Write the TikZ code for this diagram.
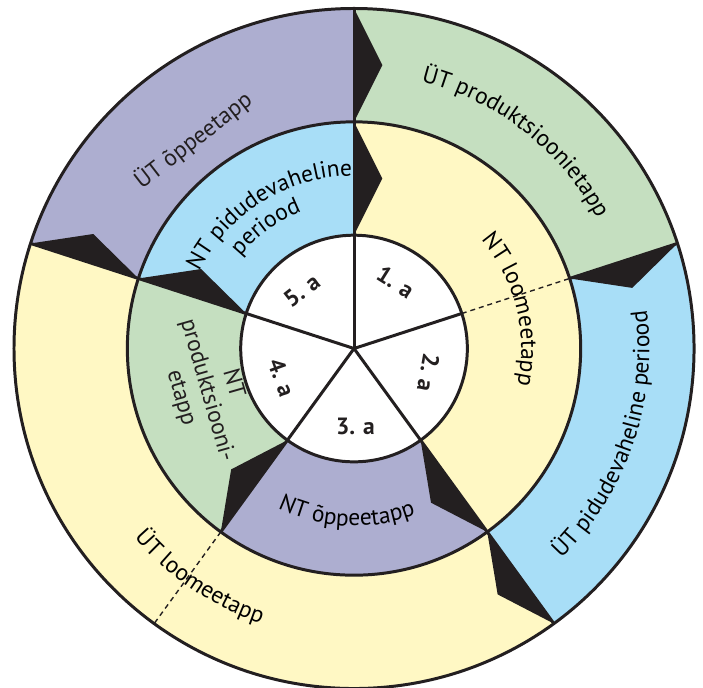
\documentclass[tikz,border=0pt]{standalone}
\usepackage{fontspec}
\setmainfont{PT Sans}
\usetikzlibrary{calc,decorations.text}
\definecolor{lilac}{RGB}{173,174,208}
\definecolor{sage}{RGB}{197,223,192}
\definecolor{cream}{RGB}{255,248,196}
\definecolor{sky}{RGB}{168,222,247}
\definecolor{ink}{RGB}{35,31,32}
\tikzset{
    arctext/.style={decorate,decoration={text along path,text align=center,text={#1}}},
}
\begin{document}
\fontsize{11.8}{13.5}\selectfont
\begin{tikzpicture}[line width=1.5pt,ink]
        \useasboundingbox (-6.247,-5.973) rectangle (6.158,6.150);

        \foreach \a/\b/\c in {90/18/sage, 18/-54/sky, -54/-198/cream, 162/90/lilac} {
            \fill[\c] (\a:6) arc[start angle=\a, end angle=\b, radius=6] -- (\b:4) arc[start angle=\b, end angle=\a, radius=4] -- cycle;
        }
        \foreach \a/\b/\c in {90/-54/cream, -54/-126/lilac, -126/-198/sage, 162/90/sky} {
            \fill[\c] (\a:4) arc[start angle=\a, end angle=\b, radius=4] -- (\b:2) arc[start angle=\b, end angle=\a, radius=2] -- cycle;
        }
        \fill[white] (0,0) circle[radius=2];

        \foreach \a in {90,18,-54,162} {
            \fill[ink] (\a:4) -- ($(\a:5)+({\a-90}:0.5)$) -- (\a:6) -- cycle;
        }
        \foreach \a in {90,-54,-126,162} {
            \fill[ink] (\a:2) -- ($(\a:3)+({\a-90}:0.5)$) -- (\a:4) -- cycle;
        }

        \foreach \r in {2,4,6} \draw (0,0) circle[radius=\r];
        \foreach \a in {90,18,-54,-126,162} \draw (0,0) -- (\a:2);
        \foreach \a in {90,-54,-126,162} \draw (\a:2) -- (\a:4);
        \foreach \a in {90,18,-54,162} \draw (\a:4) -- (\a:6);
        \draw[line width=.7pt,dash pattern=on 2.5pt off 2pt] (18:2) -- (18:4) (-126:4) -- (-126:6);

        \foreach \a/\rot/\n in {58/-32/1, -18/-100/2, -89/0/3, -158/-70/4, 132/38/5} {
            \node[font=\bfseries,rotate=\rot] (pie\n) at (\a:1.38) {\n. a};
        }

        \node[rotate=37.7] (utoppe) at (127.7:4.64) {ÜT õppeetapp};
        \path[arctext={ÜT produktsioonietapp}] (88:4.86) arc[start angle=88, end angle=16, radius=4.86];
        \path[arctext={ÜT pidudevaheline periood}] (-56:5.21) arc[start angle=-56, end angle=18, radius=5.21];
        \path[arctext={ÜT loomeetapp}] (-160:5.12) arc[start angle=-160, end angle=-88, radius=5.12];

        \path[arctext={NT loomeetapp}] (50:2.95) arc[start angle=50, end angle=-22, radius=2.95];
        \path[arctext={NT õppeetapp}] (-128:3.13) arc[start angle=-128, end angle=-57, radius=3.13];
        \path[arctext={NT pidudevaheline}] (158:3.05) arc[start angle=158, end angle=86, radius=3.05];
        \path[arctext={periood}] (162:2.58) arc[start angle=162, end angle=90, radius=2.58];
        \node[rotate=-74,align=center] (ntprod) at (-164:2.7) {NT\\produktsiooni-\\etapp};
    \end{tikzpicture}
\end{document}
